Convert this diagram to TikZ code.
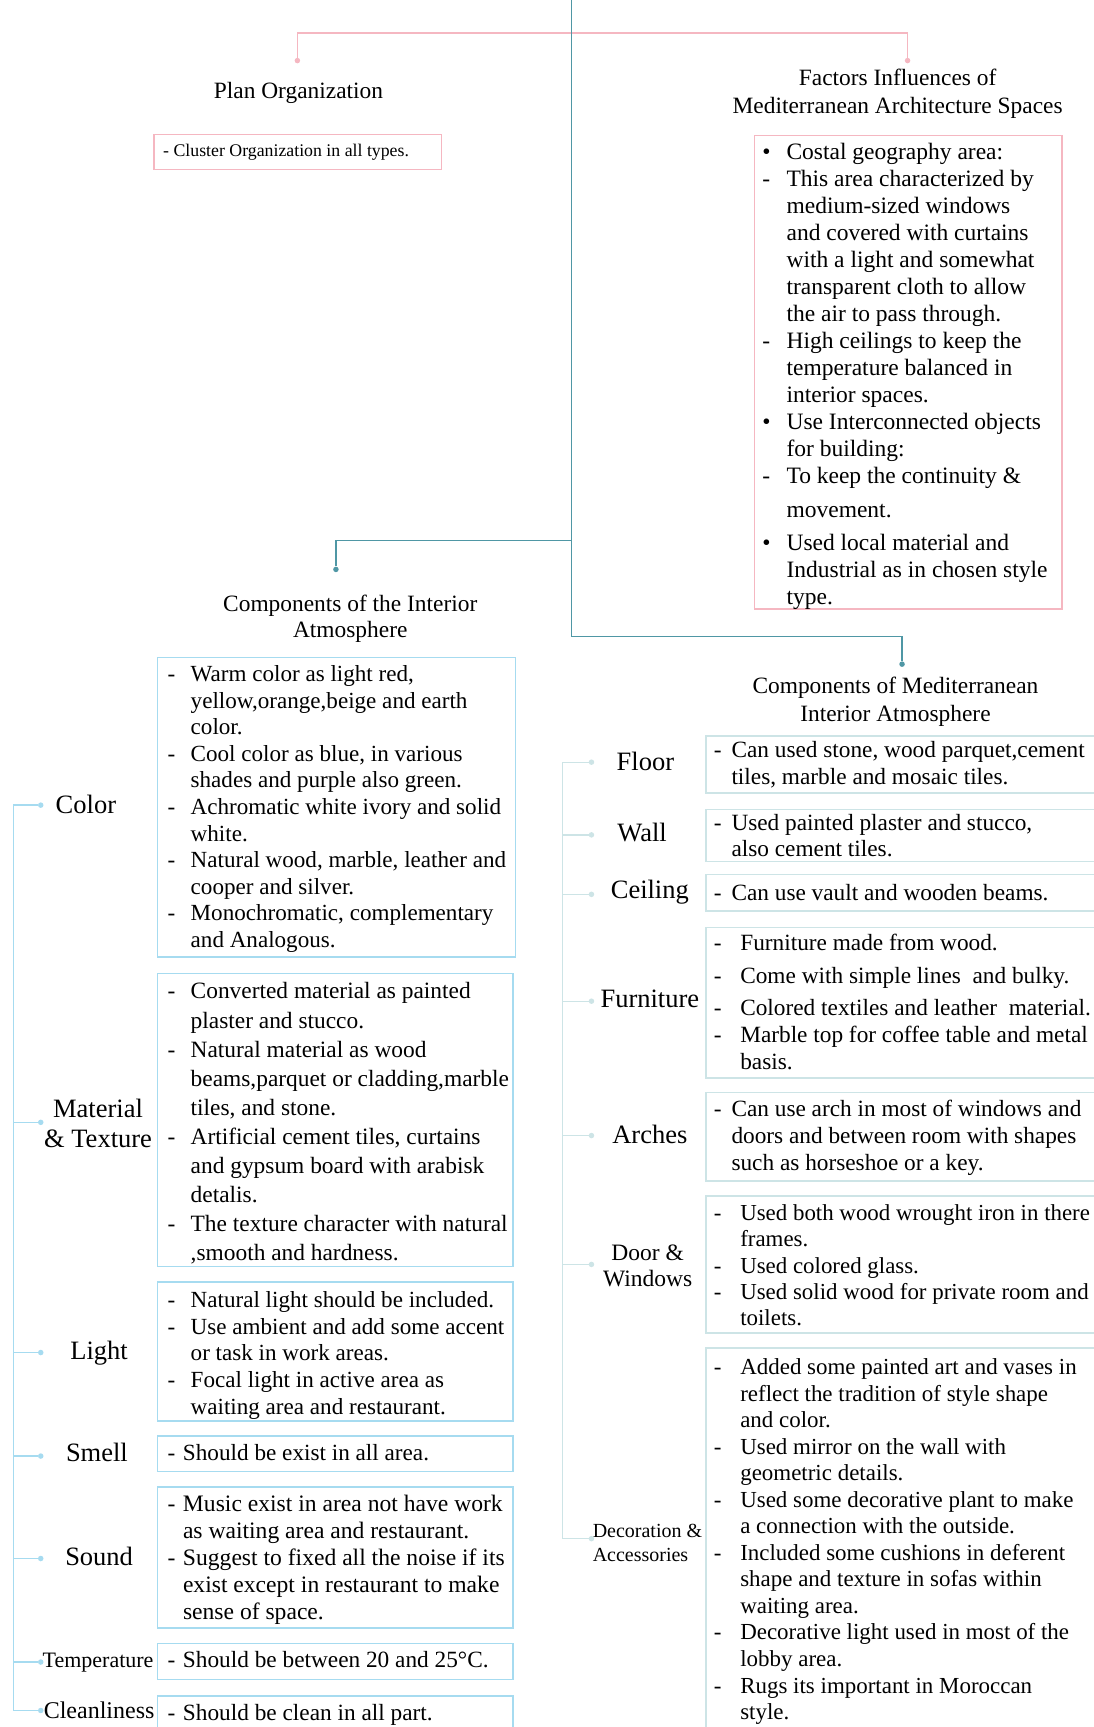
\documentclass[tikz,border=0pt]{standalone}
\usepackage{fontspec}
\setmainfont{Liberation Serif}
\usetikzlibrary{fit}
\definecolor{tealc}{HTML}{4F97A5}
\definecolor{pinkc}{HTML}{F5B7C1}
\definecolor{lbluec}{HTML}{A6DBF0}
\definecolor{rgreyc}{HTML}{CDE4E6}
\newcommand\fs[2]{\fontsize{#1}{#2}\selectfont}
\tikzset{
  txt/.style={inner sep=0pt, anchor=base west},
  lbl/.style={inner sep=0pt, anchor=base, font=\fs{26.5}{29.7}},
  ttl/.style={inner sep=0pt, anchor=base},
  lboxs/.style={draw=lbluec, line width=1.6pt, inner sep=0pt},
  rboxs/.style={draw=rgreyc, line width=1.6pt, inner sep=0pt},
  pboxs/.style={draw=pinkc, line width=1.6pt, inner sep=0pt},
  dotl/.style={circle, fill=lbluec, inner sep=0pt, minimum size=5.5pt},
  dotr/.style={circle, fill=rgreyc, inner sep=0pt, minimum size=5.5pt},
  dott/.style={circle, fill=tealc, inner sep=0pt, minimum size=5.5pt},
  dotp/.style={circle, fill=pinkc, inner sep=0pt, minimum size=5.5pt},
  tline/.style={draw=tealc, line width=1.3pt},
  pline/.style={draw=pinkc, line width=1.3pt},
  lline/.style={draw=lbluec, line width=1.3pt},
  rline/.style={draw=rgreyc, line width=1.3pt},
}
\begin{document}
\begin{tikzpicture}[x=1.1017pt,y=-1.1017pt]
\useasboundingbox (0,0) rectangle (993,1568);
\fill[white] (0,0) rectangle (993,1568);

% ---------- top connectors ----------
\coordinate (top) at (519,0);
\coordinate (pk) at (519,30);
\coordinate (tl) at (519,491);
\coordinate (tj) at (519,578);
\node[dotp] (d1a) at (270,55) {};
\node[dotp] (d1b) at (824,55) {};
\node[dott] (d2) at (305,517) {};
\node[dott] (d3) at (819,603) {};
\draw[pline] (pk) -| (d1a);
\draw[pline] (pk) -| (d1b);
\draw[tline] (top) -- (tj) -| (d3);
\draw[tline] (tl) -| (d2);

% ---------- titles ----------
\node[ttl, font=\fs{23.4}{27}] (tPlan) at (271,89) {Plan Organization};
\node[ttl, font=\fs{23.4}{27.5}] (tFact) at (815,78) {\begin{tabular}[t]{@{}c@{}}Factors Influences of\\Mediterranean Architecture Spaces\end{tabular}};
\node[ttl, font=\fs{23.4}{26.4}] (tInt) at (318,555) {\begin{tabular}[t]{@{}c@{}}Components of the Interior\\Atmosphere\end{tabular}};
\node[ttl, font=\fs{23.4}{27.5}] (tMed) at (813,630) {\begin{tabular}[t]{@{}c@{}}Components of Mediterranean\\Interior Atmosphere\end{tabular}};

% ---------- plan box ----------
\node[pboxs, fit={(140,122) (401,154)}] (bPlan) {};
\node[txt, font=\fs{17.8}{20}] (xPlan) at (148,142) {- Cluster Organization in all types.};

% ---------- factors box ----------
\node[pboxs, fit={(685,123) (964,553)}] (bFact) {};
\node[txt, font=\fs{23.5}{27}] (xFact) at (692,145) {\begin{tabular}[t]{@{}p{24.2pt}@{}l@{}}
\textbullet&Costal geography area:\\
-&This area characterized by\\
&medium-sized windows\\
&and covered with curtains\\
&with a light and somewhat\\
&transparent cloth to allow\\
&the air to pass through.\\
-&High ceilings to keep the\\
&temperature balanced in\\
&interior spaces.\\
\textbullet&Use Interconnected objects\\
&for building:\\
-&To keep the continuity \&\\[7pt]
&movement.\\[6pt]
\textbullet&Used local material and\\
&Industrial as in chosen style\\
&type.
\end{tabular}};

% ---------- left boxes ----------
\node[lboxs, fit={(143,597) (468,869)}] (bColor) {};
\node[txt, font=\fs{23.1}{26.55}] (xColor) at (152,619) {\begin{tabular}[t]{@{}p{23.1pt}@{}l@{}}
-&Warm color as light red,\\
&yellow,orange,beige and earth\\
&color.\\
-&Cool color as blue, in various\\
&shades and purple also green.\\
-&Achromatic white ivory and solid\\
&white.\\
-&Natural wood, marble, leather and\\
&cooper and silver.\\
-&Monochromatic, complementary\\
&and Analogous.
\end{tabular}};

\node[lboxs, fit={(143,884) (466,1150)}] (bMat) {};
\node[txt, font=\fs{23.4}{29.1}] (xMat) at (152,907) {\begin{tabular}[t]{@{}p{23.1pt}@{}l@{}}
-&Converted material as painted\\
&plaster and stucco.\\
-&Natural material as wood\\
&beams,parquet or cladding,marble\\
&tiles, and stone.\\
-&Artificial cement tiles, curtains\\
&and gypsum board with arabisk\\
&detalis.\\
-&The texture character with natural\\
&,smooth and hardness.
\end{tabular}};

\node[lboxs, fit={(143,1164) (466,1290)}] (bLight) {};
\node[txt, font=\fs{23.1}{26.7}] (xLight) at (152,1187) {\begin{tabular}[t]{@{}p{23.1pt}@{}l@{}}
-&Natural light should be included.\\
-&Use ambient and add some accent\\
&or task in work areas.\\
-&Focal light in active area as\\
&waiting area and restaurant.
\end{tabular}};

\node[lboxs, fit={(143,1304) (466,1336)}] (bSmell) {};
\node[txt, font=\fs{23.2}{27}] (xSmell) at (152,1326) {\begin{tabular}[t]{@{}p{15.4pt}@{}l@{}}
-&Should be exist in all area.
\end{tabular}};

\node[lboxs, fit={(143,1350) (466,1478)}] (bSound) {};
\node[txt, font=\fs{23.6}{27}] (xSound) at (152,1372) {\begin{tabular}[t]{@{}p{15.4pt}@{}l@{}}
-&Music exist in area not have work\\
&as waiting area and restaurant.\\
-&Suggest to fixed all the noise if its\\
&exist except in restaurant to make\\
&sense of space.
\end{tabular}};

\node[lboxs, fit={(143,1492) (466,1525)}] (bTemp) {};
\node[txt, font=\fs{23.3}{27}] (xTemp) at (152,1514) {\begin{tabular}[t]{@{}p{15.4pt}@{}l@{}}
-&Should be between 20 and 25°C.
\end{tabular}};

\node[lboxs, fit={(143,1540) (466,1590)}] (bClean) {};
\node[txt, font=\fs{23.3}{27}] (xClean) at (152,1562) {\begin{tabular}[t]{@{}p{15.4pt}@{}l@{}}
-&Should be clean in all part.
\end{tabular}};

% ---------- left labels & tree ----------
\node[lbl] (lColor) at (78,739) {Color};
\node[lbl] (lMat) at (89,1015) {\begin{tabular}[t]{@{}c@{}}Material\\\& Texture\end{tabular}};
\node[lbl] (lLight) at (90,1234) {Light};
\node[lbl] (lSmell) at (88,1327) {Smell};
\node[lbl] (lSound) at (90,1421) {Sound};
\node[lbl, font=\fs{22}{26}] (lTemp) at (89,1514) {Temperature};
\node[lbl, font=\fs{24}{28}] (lClean) at (90,1560) {Cleanliness};

\coordinate (lt) at (12,731);
\coordinate (lb) at (12,1553);
\node[dotl] (dColor) at (37,731) {};
\node[dotl] (dMat) at (37,1019) {};
\node[dotl] (dLight) at (37,1228) {};
\node[dotl] (dSmell) at (37,1322) {};
\node[dotl] (dSound) at (37,1415) {};
\node[dotl] (dTemp) at (37,1509) {};
\node[dotl] (dClean) at (37,1553) {};
\draw[lline] (dColor) -- (lt) -- (lb) -- (dClean);
\foreach \n in {dMat,dLight,dSmell,dSound,dTemp} \draw[lline] (\n) -- (\n -| lt);

% ---------- right boxes ----------
\node[rboxs, fit={(641,668) (1000,720)}] (bFloor) {};
\node[txt, font=\fs{23.3}{26.4}] (xFloor) at (648,688) {\begin{tabular}[t]{@{}p{17.6pt}@{}l@{}}
-&Can used stone, wood parquet,cement\\
&tiles, marble and mosaic tiles.
\end{tabular}};

\node[rboxs, fit={(641,735) (1000,782)}] (bWall) {};
\node[txt, font=\fs{23.3}{26.4}] (xWall) at (648,754) {\begin{tabular}[t]{@{}p{17.6pt}@{}l@{}}
-&Used painted plaster and stucco,\\
&also cement tiles.
\end{tabular}};

\node[rboxs, fit={(641,794) (1000,827)}] (bCeil) {};
\node[txt, font=\fs{23.3}{26.4}] (xCeil) at (648,818) {\begin{tabular}[t]{@{}p{17.6pt}@{}l@{}}
-&Can use vault and wooden beams.
\end{tabular}};

\node[rboxs, fit={(641,842) (1000,979)}] (bFurn) {};
\node[txt, font=\fs{23.3}{26.4}] (xFurn) at (648,863) {\begin{tabular}[t]{@{}p{26.4pt}@{}l@{}}
-&Furniture made from wood.\\[6.6pt]
-&Come with simple lines\ \ and bulky.\\[5.5pt]
-&Colored textiles and leather\ \ material.\\[1pt]
-&Marble top for coffee table and metal\\
&basis.
\end{tabular}};

\node[rboxs, fit={(641,992) (1000,1072)}] (bArch) {};
\node[txt, font=\fs{23.3}{27}] (xArch) at (648,1014) {\begin{tabular}[t]{@{}p{17.6pt}@{}l@{}}
-&Can use arch in most of windows and\\
&doors and between room with shapes\\
&such as horseshoe or a key.
\end{tabular}};

\node[rboxs, fit={(641,1086) (1000,1210)}] (bDoor) {};
\node[txt, font=\fs{22.9}{26.4}] (xDoor) at (648,1108) {\begin{tabular}[t]{@{}p{26.4pt}@{}l@{}}
-&Used both wood wrought iron in there\\
&frames.\\
-&Used colored glass.\\
-&Used solid wood for private room and\\
&toilets.
\end{tabular}};

\node[rboxs, fit={(641,1224) (1000,1590)}] (bDeco) {};
\node[txt, font=\fs{22.95}{26.55}] (xDeco) at (648,1248) {\begin{tabular}[t]{@{}p{26.4pt}@{}l@{}}
-&Added some painted art and vases in\\
&reflect the tradition of style shape\\
&and color.\\
-&Used mirror on the wall with\\
&geometric details.\\
-&Used some decorative plant to make\\
&a connection with the outside.\\
-&Included some cushions in deferent\\
&shape and texture in sofas within\\
&waiting area.\\
-&Decorative light used in most of the\\
&lobby area.\\
-&Rugs its important in Moroccan\\
&style.
\end{tabular}};

% ---------- right labels & tree ----------
\node[lbl] (lFloor) at (586,700) {Floor};
\node[lbl] (lWall) at (583,764) {Wall};
\node[lbl] (lCeil) at (590,816) {Ceiling};
\node[lbl] (lFurn) at (590,915) {Furniture};
\node[lbl] (lArch) at (590,1038) {Arches};
\node[lbl, font=\fs{23.5}{26.4}] (lDoor) at (588,1144) {\begin{tabular}[t]{@{}c@{}}Door \&\\Windows\end{tabular}};
\node[txt, font=\fs{20}{24.2}] (lDeco) at (538,1396) {\begin{tabular}[t]{@{}l@{}}Decoration \&\\Accessories\end{tabular}};

\coordinate (rt) at (511,692);
\coordinate (rb) at (511,1397);
\node[dotr] (dFloor) at (537,692) {};
\node[dotr] (dWall) at (537,758) {};
\node[dotr] (dCeil) at (537,812) {};
\node[dotr] (dFurn) at (537,909) {};
\node[dotr] (dArch) at (537,1031) {};
\node[dotr] (dDoor) at (537,1148) {};
\node[dotr] (dDeco) at (537,1397) {};
\draw[rline] (dFloor) -- (rt) -- (rb) -- (dDeco);
\foreach \n in {dWall,dCeil,dFurn,dArch,dDoor} \draw[rline] (\n) -- (\n -| rt);
\end{tikzpicture}
\end{document}
